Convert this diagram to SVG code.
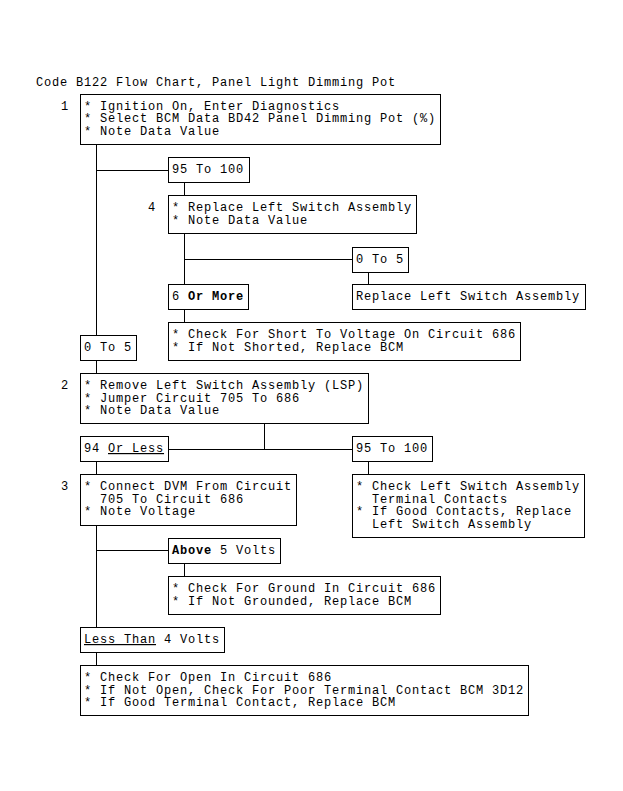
<svg xmlns="http://www.w3.org/2000/svg" width="623" height="791" viewBox="0 0 623 791">
<style>
.b{fill:#fff;stroke:#000;stroke-width:1}
text{font-family:"Liberation Mono","DejaVu Sans Mono",monospace;font-size:12px;letter-spacing:0.8px;fill:#000;white-space:pre}
.c line{stroke:#000;stroke-width:1}
.n{text-anchor:middle}
.bd{font-weight:bold}
.u{text-decoration:underline}
</style>
<rect x="0" y="0" width="623" height="791" fill="#fff"/>
<text id="title" x="36" y="86">Code B122 Flow Chart, Panel Light Dimming Pot</text>
<g class="c" id="connectors">
<line x1="96.5" y1="144.5" x2="96.5" y2="335.5"/>
<line x1="96.5" y1="360.5" x2="96.5" y2="373.5"/>
<line x1="96.5" y1="461.5" x2="96.5" y2="474.5"/>
<line x1="96.5" y1="525.5" x2="96.5" y2="627.5"/>
<line x1="96.5" y1="652.5" x2="96.5" y2="665.5"/>
<line x1="96.5" y1="170.5" x2="168.5" y2="170.5"/>
<line x1="184.5" y1="182.5" x2="184.5" y2="195.5"/>
<line x1="184.5" y1="233.5" x2="184.5" y2="284.5"/>
<line x1="184.5" y1="309.5" x2="184.5" y2="322.5"/>
<line x1="184.5" y1="563.5" x2="184.5" y2="576.5"/>
<line x1="184.5" y1="259.5" x2="352.5" y2="259.5"/>
<line x1="368.5" y1="272.5" x2="368.5" y2="284.5"/>
<line x1="264.5" y1="423.5" x2="264.5" y2="449.5"/>
<line x1="168.5" y1="449.5" x2="352.5" y2="449.5"/>
<line x1="368.5" y1="461.5" x2="368.5" y2="474.5"/>
<line x1="96.5" y1="550.5" x2="168.5" y2="550.5"/>
</g>
<g id="n1">
<text class="n" x="65" y="109.5">1</text>
<rect class="b" x="80.5" y="94.5" width="360" height="50"/>
<text x="84" y="109.5">* Ignition On, Enter Diagnostics</text>
<text x="84" y="122">* Select BCM Data BD42 Panel Dimming Pot (%)</text>
<text x="84" y="134.5">* Note Data Value</text>
</g>
<g id="n95a">
<rect class="b" x="168.5" y="157.5" width="81" height="25"/>
<text x="172" y="173">95 To 100</text>
</g>
<g id="n4">
<text class="n" x="152" y="211">4</text>
<rect class="b" x="168.5" y="195.5" width="248" height="38"/>
<text x="172" y="211">* Replace Left Switch Assembly</text>
<text x="172" y="223.5">* Note Data Value</text>
</g>
<g id="n05a">
<rect class="b" x="352.5" y="247.5" width="56" height="25"/>
<text x="356" y="263">0 To 5</text>
</g>
<g id="n6">
<rect class="b" x="168.5" y="284.5" width="80" height="25"/>
<text x="172" y="300">6 <tspan class="bd">Or More</tspan></text>
</g>
<g id="nRep">
<rect class="b" x="352.5" y="284.5" width="233" height="25"/>
<text x="356" y="300">Replace Left Switch Assembly</text>
</g>
<g id="nShort">
<rect class="b" x="168.5" y="322.5" width="352" height="38"/>
<text x="172" y="338">* Check For Short To Voltage On Circuit 686</text>
<text x="172" y="350.5">* If Not Shorted, Replace BCM</text>
</g>
<g id="n05b">
<rect class="b" x="80.5" y="335.5" width="56" height="25"/>
<text x="84" y="351">0 To 5</text>
</g>
<g id="n2">
<text class="n" x="65" y="389">2</text>
<rect class="b" x="80.5" y="373.5" width="288" height="50"/>
<text x="84" y="389">* Remove Left Switch Assembly (LSP)</text>
<text x="84" y="401.5">* Jumper Circuit 705 To 686</text>
<text x="84" y="414">* Note Data Value</text>
</g>
<g id="n94">
<rect class="b" x="80.5" y="436.5" width="88" height="25"/>
<text x="84" y="452">94 <tspan class="u">Or Less</tspan></text>
</g>
<g id="n95b">
<rect class="b" x="352.5" y="436.5" width="80" height="25"/>
<text x="356" y="452">95 To 100</text>
</g>
<g id="n3">
<text class="n" x="65" y="490">3</text>
<rect class="b" x="80.5" y="474.5" width="216" height="51"/>
<text x="84" y="490">* Connect DVM From Circuit</text>
<text x="84" y="502.5">  705 To Circuit 686</text>
<text x="84" y="515">* Note Voltage</text>
</g>
<g id="nCL">
<rect class="b" x="352.5" y="474.5" width="232" height="63"/>
<text x="356" y="490">* Check Left Switch Assembly</text>
<text x="356" y="502.5">  Terminal Contacts</text>
<text x="356" y="515">* If Good Contacts, Replace</text>
<text x="356" y="527.5">  Left Switch Assembly</text>
</g>
<g id="nAbove">
<rect class="b" x="168.5" y="538.5" width="112" height="25"/>
<text x="172" y="554"><tspan class="bd">Above</tspan> 5 Volts</text>
</g>
<g id="nGround">
<rect class="b" x="168.5" y="576.5" width="272" height="38"/>
<text x="172" y="592">* Check For Ground In Circuit 686</text>
<text x="172" y="604.5">* If Not Grounded, Replace BCM</text>
</g>
<g id="nLess">
<rect class="b" x="80.5" y="627.5" width="144" height="25"/>
<text x="84" y="643"><tspan class="u">Less Than</tspan> 4 Volts</text>
</g>
<g id="nOpen">
<rect class="b" x="80.5" y="665.5" width="448" height="50"/>
<text x="84" y="681">* Check For Open In Circuit 686</text>
<text x="84" y="693.5">* If Not Open, Check For Poor Terminal Contact BCM 3D12</text>
<text x="84" y="706">* If Good Terminal Contact, Replace BCM</text>
</g>
</svg>
